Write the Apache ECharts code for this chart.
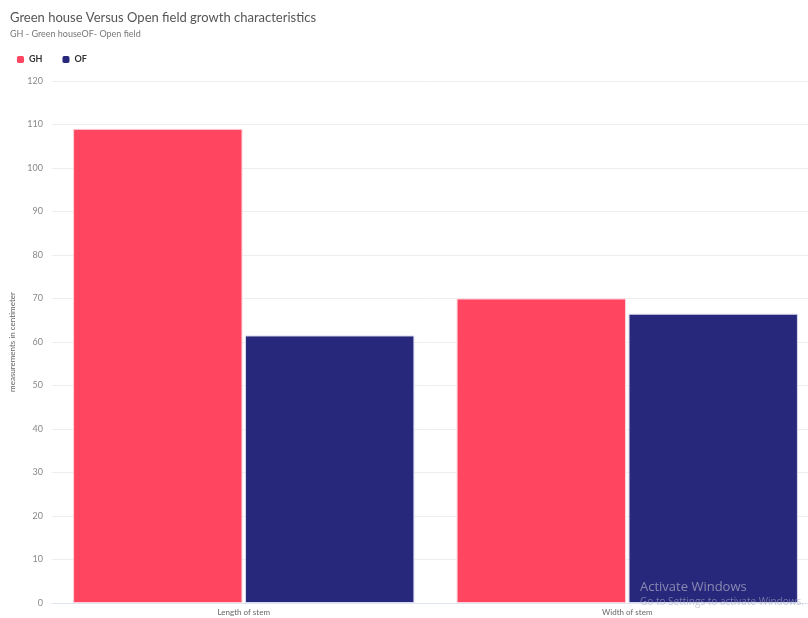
<!DOCTYPE html>
<html>
<head>
    <meta charset="utf-8" />
    <title>Green house Versus Open field</title>
    <script src="https://cdn.jsdelivr.net/npm/echarts@6/dist/echarts.min.js"></script>
    <style>
        html, body { margin: 0; padding: 0; background: #fff; }
    </style>
</head>
<body>
    <div id="main" style="width: 808px;height:618px;"></div>
    <script type="text/javascript">
    // data
    var categories = ['Length of stem', 'Width of stem'];
    var ghValues = [109, 70];
    var ofValues = [61.5, 66.5];
    var seriesNames = ['GH', 'OF'];

    var myChart = echarts.init(document.getElementById('main'));
    var font = 'Lato, "Open Sans", sans-serif';

    var option = {
        animation: false,
        textStyle: { fontFamily: font },
        title: {
            text: 'Green house Versus Open field growth characteristics',
            subtext: 'GH - Green houseOF- Open field',
            left: 5,
            top: 6,
            itemGap: 6,
            textStyle: { fontSize: 13, fontWeight: 'normal', color: '#555', fontFamily: font },
            subtextStyle: { fontSize: 9, color: '#777', fontFamily: font }
        },
        legend: {
            data: seriesNames,
            left: 12,
            top: 50,
            icon: 'roundRect',
            itemWidth: 7,
            itemHeight: 7,
            itemGap: 20,
            itemStyle: { borderWidth: 0 },
            textStyle: { fontSize: 9, fontWeight: 'bold', color: '#333', fontFamily: font }
        },
        grid: {
            left: 52,
            width: 767,
            top: 81,
            bottom: 15,
            containLabel: false,
            outerBoundsMode: 'none'
        },
        xAxis: {
            type: 'category',
            data: categories,
            axisTick: { show: false },
            axisLine: { lineStyle: { color: '#e0e6f1' } },
            axisLabel: { fontSize: 8, color: '#666', margin: 5 }
        },
        yAxis: {
            type: 'value',
            min: 0,
            max: 120,
            interval: 10,
            name: 'measurements in centimeter',
            nameLocation: 'middle',
            nameGap: 29,
            nameTextStyle: { fontSize: 8, color: '#666' },
            axisLabel: { fontSize: 9, color: '#888', margin: 9 },
            splitLine: { lineStyle: { color: '#eeeeee' } }
        },
        series: [
            {
                name: 'GH',
                type: 'bar',
                data: ghValues,
                barCategoryGap: '11%',
                barGap: '1.5%',
                itemStyle: { color: '#ff4560', borderColor: '#ffd0d7', borderWidth: 1 }
            },
            {
                name: 'OF',
                type: 'bar',
                data: ofValues,
                itemStyle: { color: '#27277b', borderColor: '#d8d8ee', borderWidth: 1 }
            }
        ],
        graphic: [
            {
                type: 'text',
                left: 640,
                top: 581,
                silent: true,
                z: 100,
                style: { text: 'Activate Windows', fontSize: 13, fill: 'rgba(170,170,195,0.75)', fontFamily: 'Open Sans, sans-serif' }
            },
            {
                type: 'text',
                left: 640,
                top: 597,
                silent: true,
                z: 100,
                style: { text: 'Go to Settings to activate Windows.', fontSize: 10, fill: 'rgba(170,170,195,0.6)', fontFamily: 'Open Sans, sans-serif' }
            }
        ]
    };

    myChart.setOption(option);
    </script>
</body>
</html>
